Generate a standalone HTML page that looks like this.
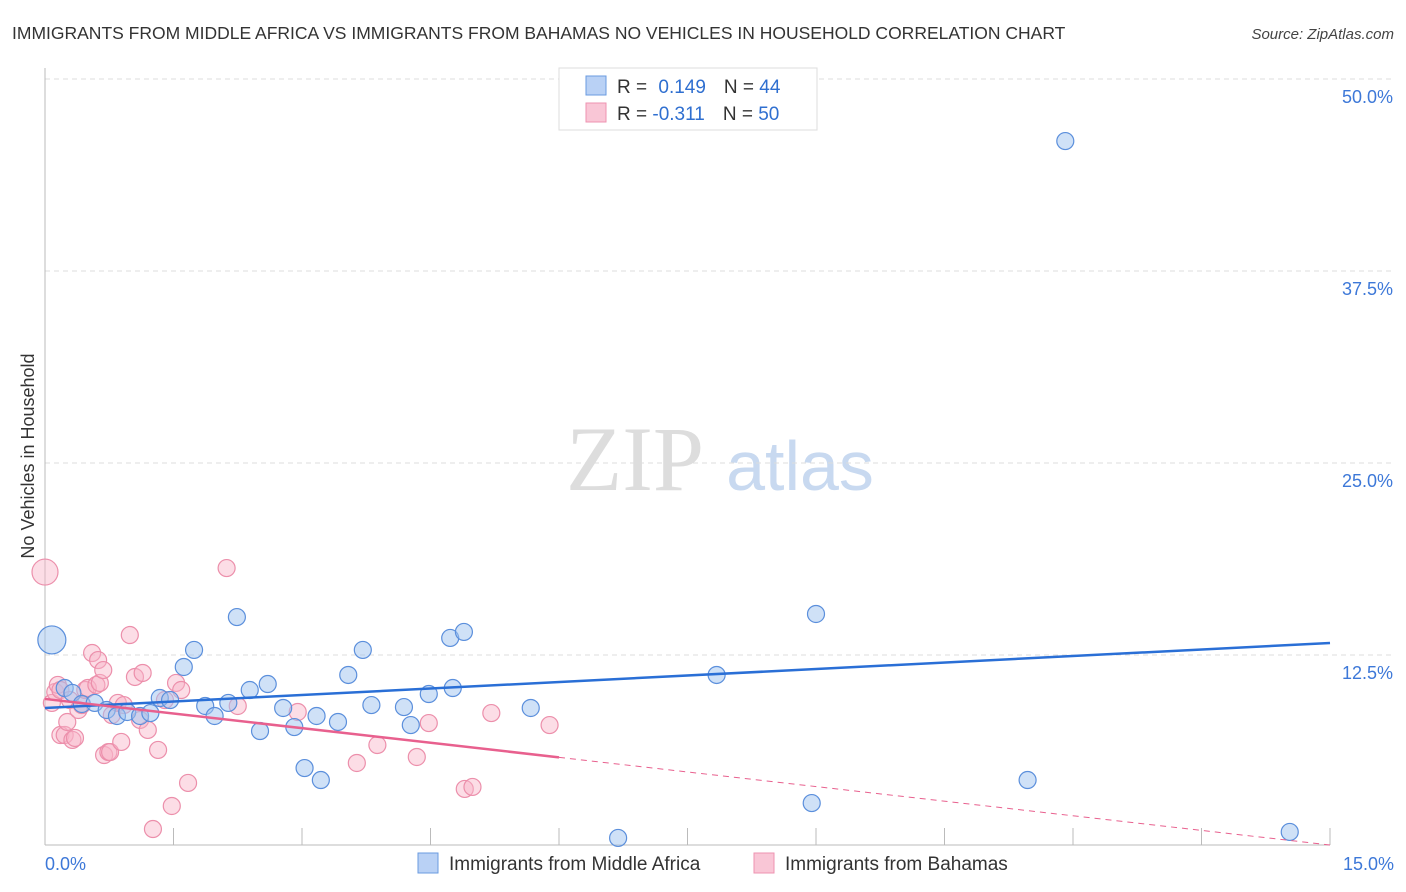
<!DOCTYPE html>
<html><head><meta charset="utf-8"><style>
body{margin:0;background:#fff;font-family:"Liberation Sans",sans-serif;}
</style></head><body>
<svg id="chart" width="1406" height="892" xmlns="http://www.w3.org/2000/svg" style="display:block">
<text x="12" y="39" font-size="17.5" fill="#333">IMMIGRANTS FROM MIDDLE AFRICA VS IMMIGRANTS FROM BAHAMAS NO VEHICLES IN HOUSEHOLD CORRELATION CHART</text>
<text x="1394" y="39" font-size="15" fill="#444" text-anchor="end" font-style="italic">Source: ZipAtlas.com</text>
<text transform="translate(34,456) rotate(-90)" font-size="18" fill="#333" text-anchor="middle">No Vehicles in Household</text>
<g>
<text x="635" y="490" font-size="92" fill="#ddd" font-family="Liberation Serif,serif" text-anchor="middle">ZIP</text>
<text x="800" y="490" font-size="70" fill="#c8d9f0" text-anchor="middle">atlas</text>
</g>
<g id="grid"></g><g id="axes"></g><g id="pts"></g><g id="trends"></g>
<g>
<rect x="559" y="68" width="258" height="62" fill="#fff" stroke="#ddd"/>
<rect x="586" y="76" width="20" height="19" fill="#b9d1f5" stroke="#6a9be0"/>
<rect x="586" y="103" width="20" height="19" fill="#f9c6d6" stroke="#ee93b0"/>
<text x="617" y="93" font-size="19" fill="#333">R = <tspan fill="#2f6fd0" dx="6">0.149</tspan><tspan fill="#333" dx="18">N = </tspan><tspan fill="#2f6fd0">44</tspan></text>
<text x="617" y="120" font-size="19" fill="#333">R = <tspan fill="#2f6fd0">-0.311</tspan><tspan fill="#333" dx="18">N = </tspan><tspan fill="#2f6fd0">50</tspan></text>
</g>
<g>
<rect x="418" y="853" width="20" height="20" fill="#b9d1f5" stroke="#6a9be0"/>
<text x="449" y="870" font-size="19" fill="#333">Immigrants from Middle Africa</text>
<rect x="754" y="853" width="20" height="20" fill="#f9c6d6" stroke="#ee93b0"/>
<text x="785" y="870" font-size="19" fill="#333">Immigrants from Bahamas</text>
</g>
</svg>
<script>
const yTicks=[12.5,25,37.5,50];
const yTickLabels=["12.5%","25.0%","37.5%","50.0%"];
const xTickCount=10;
const blueX=[0.08,0.23,0.32,0.43,0.58,0.72,0.84,0.96,1.11,1.23,1.34,1.46,1.62,1.74,1.87,1.98,2.14,2.24,2.39,2.51,2.60,2.78,2.91,3.03,3.17,3.22,3.42,3.54,3.71,3.81,4.19,4.27,4.48,4.73,4.76,4.89,5.67,6.69,7.84,8.95,9.00,11.47,11.91,14.53];
const blueY=[13.48,10.35,10.03,9.31,9.38,8.92,8.53,8.79,8.53,8.72,9.70,9.57,11.72,12.83,9.18,8.53,9.38,14.97,10.22,7.55,10.61,9.05,7.81,5.14,8.53,4.36,8.14,11.20,12.83,9.24,9.11,7.94,9.96,13.61,10.35,14.00,9.05,0.59,11.20,2.86,15.17,4.36,45.96,0.98];
const pinkX=[0,0.08,0.12,0.15,0.18,0.18,0.23,0.26,0.29,0.32,0.35,0.39,0.43,0.47,0.50,0.55,0.60,0.62,0.64,0.68,0.69,0.74,0.76,0.78,0.85,0.89,0.92,0.99,1.05,1.11,1.14,1.20,1.26,1.32,1.40,1.48,1.53,1.59,1.67,2.12,2.25,2.95,3.64,3.88,4.34,4.48,4.90,4.99,5.21,5.89];
const pinkY=[17.90,9.38,10.09,10.55,7.29,10.22,7.29,8.14,9.57,6.97,7.10,8.92,9.24,10.22,10.35,12.63,10.55,12.17,10.68,11.52,5.99,6.18,6.18,8.59,9.38,6.84,9.24,13.80,11.07,8.27,11.33,7.62,1.17,6.32,9.57,2.67,10.68,10.22,4.17,18.16,9.18,8.79,5.47,6.64,5.86,8.07,3.78,3.91,8.72,7.94];
const blueTrend=[9.05,13.28];
const pinkTrend=[9.64,0.13];
const pinkSolidEnd=6.0;
const NS="http://www.w3.org/2000/svg";
const X0=45,X1=1330,XMAX=15,Y0=847,YPX=192/12.5;
const sx=v=>X0+v/XMAX*(X1-X0), sy=v=>Y0-v*YPX;
function mk(tag,attrs,parent){const e=document.createElementNS(NS,tag);for(const k in attrs)e.setAttribute(k,attrs[k]);document.getElementById(parent).appendChild(e);return e;}
yTicks.forEach((t,i)=>{
 const g=mk('line',{x1:45,x2:1395,y1:sy(t),y2:sy(t),stroke:'#ddd','stroke-dasharray':'5,4'},'grid');
 
 
 const l=mk('text',{x:1393,y:sy(t)+24,'font-size':18,fill:'#3d78d8','text-anchor':'end'},'grid');
 l.textContent=yTickLabels[i];
 
 
});
const ax=mk('line',{x1:45,x2:45,y1:68,y2:845,stroke:'#bbb'},'axes');


const bx=mk('line',{x1:45,x2:1330,y1:845,y2:845,stroke:'#bbb'},'axes');


for(let i=1;i<=xTickCount;i++){const xx=sx(i*XMAX/xTickCount);
 const t=mk('line',{x1:xx,x2:xx,y1:828,y2:845,stroke:'#bbb'},'axes');
 
 }
const xl0=mk('text',{x:45,y:870,'font-size':18,fill:'#3d78d8'},'axes');xl0.textContent='0.0%';


const xl1=mk('text',{x:1394,y:870,'font-size':18,fill:'#3d78d8','text-anchor':'end'},'axes');xl1.textContent='15.0%';


function pts(xs,ys,fill,stroke,name,big){xs.forEach((v,i)=>{
 const c=mk('circle',{cx:sx(v),cy:sy(ys[i]),r:(i===0&&big)?(big):8.5,fill:fill,stroke:stroke,'stroke-width':1.2},'pts');
 
 });}
pts(pinkX,pinkY,'rgba(248,180,200,0.45)','#ec8fab','bahamas-point',13);
pts(blueX,blueY,'rgba(160,195,240,0.5)','#5b8fdc','middle-africa-point',14);
const bt=mk('line',{x1:sx(0),y1:sy(blueTrend[0]),x2:sx(15),y2:sy(blueTrend[1]),stroke:'#2a6fd6','stroke-width':2.5},'trends');


const pAt=x=>pinkTrend[0]+(pinkTrend[1]-pinkTrend[0])*x/15;
const pt=mk('line',{x1:sx(0),y1:sy(pAt(0)),x2:sx(pinkSolidEnd),y2:sy(pAt(pinkSolidEnd)),stroke:'#e8608e','stroke-width':2.5},'trends');


const pd=mk('line',{x1:sx(pinkSolidEnd),y1:sy(pAt(pinkSolidEnd)),x2:sx(15),y2:sy(pAt(15)),stroke:'#e8608e','stroke-width':1,'stroke-dasharray':'6,5'},'trends');


</script>
</body></html>
